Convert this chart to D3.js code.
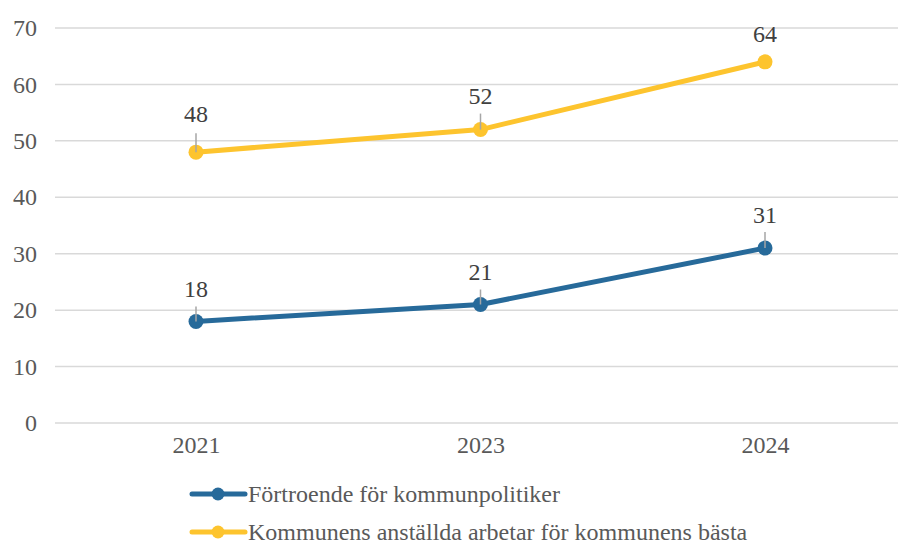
<!DOCTYPE html>
<html>
<head>
<meta charset="utf-8">
<script src="https://cdn.jsdelivr.net/npm/d3@7"></script>
<style>
  body { margin: 0; background: #fff; }
  text { font-family: "Liberation Serif", "Times New Roman", serif; }
</style>
</head>
<body>
<div id="chart"></div>
<script>
// data
var years = ["2021", "2023", "2024"];
var seriesNames = ["Förtroende för kommunpolitiker", "Kommunens anställda arbetar för kommunens bästa"];
var fortroende = [18, 21, 31];
var anstallda = [48, 52, 64];
var yTicks = [0, 10, 20, 30, 40, 50, 60, 70];

// layout tweaks for labels (how far above the point the text sits)
var labelDy = [[24, 25, 25], [30, 26, 20]];
var leaderLen = [[15, 15, 16], [19, 16, 0]];

var width = 898,
    height = 545,
    fontSize = 24,
    colors = ["#276a9a", "#fdc42e"];

var svg = d3.select("#chart").append("svg")
    .attr("width", width)
    .attr("height", height);

var x = d3.scalePoint()
    .domain(years)
    .range([196, 765]);

var y = d3.scaleLinear()
    .domain([0, 70])
    .range([423, 28]);

// gridlines
svg.append("g").selectAll("line")
    .data(yTicks)
  .enter().append("line")
    .attr("x1", 55)
    .attr("x2", width)
    .attr("y1", function(d) { return y(d); })
    .attr("y2", function(d) { return y(d); })
    .attr("stroke", "#d9d9d9")
    .attr("stroke-width", 1.5);

// y axis labels
var yAxis = d3.axisLeft(y).tickValues(yTicks).tickSize(0).tickPadding(0);
var gy = svg.append("g").attr("transform", "translate(37,0)").call(yAxis);
gy.select(".domain").remove();
gy.attr("font-family", null);
gy.selectAll("text")
    .attr("font-size", fontSize)
    .attr("fill", "#595959");

// x axis labels
var xAxis = d3.axisBottom(x).tickSize(0).tickPadding(0);
var gx = svg.append("g").attr("transform", "translate(0,436)").call(xAxis);
gx.select(".domain").remove();
gx.attr("font-family", null);
gx.selectAll("text")
    .attr("font-size", fontSize)
    .attr("fill", "#595959");

var series = [fortroende, anstallda];

var line = d3.line()
    .x(function(d, i) { return x(years[i]); })
    .y(function(d) { return y(d); });

series.forEach(function(vals, s) {
  var g = svg.append("g");

  g.append("path")
    .datum(vals)
    .attr("d", line)
    .attr("fill", "none")
    .attr("stroke", colors[s])
    .attr("stroke-width", 5)
    .attr("stroke-linejoin", "round");

  g.selectAll("circle")
    .data(vals)
  .enter().append("circle")
    .attr("cx", function(d, i) { return x(years[i]); })
    .attr("cy", function(d) { return y(d); })
    .attr("r", 7.5)
    .attr("fill", colors[s]);

  // leader lines
  g.selectAll(".leader")
    .data(vals)
  .enter().append("line")
    .attr("class", "leader")
    .filter(function(d, i) { return leaderLen[s][i] > 0; })
    .attr("x1", function(d, i) { return x(years[i]); })
    .attr("x2", function(d, i) { return x(years[i]); })
    .attr("y1", function(d) { return y(d); })
    .attr("y2", function(d, i) { return y(d) - leaderLen[s][i]; })
    .attr("stroke", "#a6a6a6")
    .attr("stroke-width", 1.5);

  g.selectAll(".lbl")
    .data(vals)
  .enter().append("text")
    .attr("class", "lbl")
    .attr("x", function(d, i) { return x(years[i]); })
    .attr("y", function(d, i) { return y(d) - labelDy[s][i]; })
    .attr("text-anchor", "middle")
    .attr("font-size", fontSize)
    .attr("fill", "#404040")
    .text(function(d) { return d; });
});

// legend
var legend = svg.append("g").selectAll("g")
    .data(seriesNames)
  .enter().append("g")
    .attr("transform", function(d, i) { return "translate(0," + (494 + i * 38) + ")"; });

legend.append("line")
    .attr("x1", 192)
    .attr("x2", 245)
    .attr("stroke", function(d, i) { return colors[i]; })
    .attr("stroke-width", 5)
    .attr("stroke-linecap", "round");

legend.append("circle")
    .attr("cx", 218)
    .attr("r", 6.5)
    .attr("fill", function(d, i) { return colors[i]; });

legend.append("text")
    .attr("x", 248)
    .attr("y", 8)
    .attr("font-size", fontSize)
    .attr("fill", "#595959")
    .text(function(d) { return d; });
</script>
</body>
</html>
